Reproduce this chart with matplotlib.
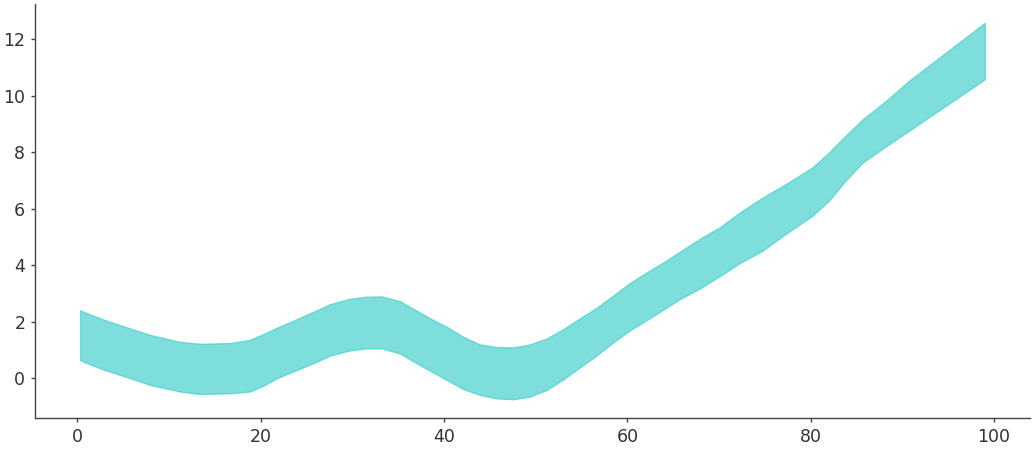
import matplotlib
matplotlib.use('Agg')
import matplotlib.pyplot as plt

# values
x = [0.3, 0.9, 3.0, 5.8, 8.0, 11.2, 13.4, 16.7, 18.8, 20.3, 21.75, 23.9, 25.7,
     27.6, 29.6, 31.5, 33.2, 35.2, 36.6, 38.5, 40.3, 42.1, 43.9, 45.7, 47.5,
     49.35, 51.2, 53.0, 54.8, 56.6, 58.4, 60.2, 62.1, 64.0, 65.7, 67.9, 70.1,
     72.2, 74.8, 77.3, 80.2, 82.0, 83.8, 85.7, 88.2, 90.7, 99.0]

upper = [2.41, 2.32, 2.06, 1.76, 1.53, 1.29, 1.22, 1.25, 1.36, 1.57, 1.79, 2.09,
         2.35, 2.63, 2.81, 2.89, 2.90, 2.73, 2.47, 2.12, 1.82, 1.47, 1.20, 1.11,
         1.09, 1.20, 1.41, 1.74, 2.12, 2.49, 2.92, 3.36, 3.75, 4.12, 4.48, 4.94,
         5.35, 5.86, 6.41, 6.88, 7.47, 8.00, 8.59, 9.18, 9.82, 10.53, 12.59]

lower = [0.65, 0.55, 0.29, 0.00, -0.24, -0.47, -0.56, -0.53, -0.47, -0.26, 0.00,
         0.29, 0.53, 0.81, 0.98, 1.06, 1.06, 0.88, 0.61, 0.26, -0.06, -0.38,
         -0.59, -0.71, -0.74, -0.65, -0.41, -0.04, 0.38, 0.80, 1.26, 1.68, 2.06,
         2.45, 2.80, 3.18, 3.62, 4.07, 4.53, 5.12, 5.76, 6.29, 7.00, 7.65, 8.21,
         8.76, 10.59]

fig, ax = plt.subplots(figsize=(10.35, 4.5), dpi=100)
ax.fill_between(x, lower, upper, color='mediumturquoise', alpha=0.7, linewidth=1)

# only left/bottom spines, like seaborn despine
for side in ['top', 'right']:
    ax.spines[side].set_visible(False)
for side in ['left', 'bottom']:
    ax.spines[side].set_color('#444444')
    ax.spines[side].set_linewidth(1.0)
ax.tick_params(labelsize=12.5, labelcolor='#333333', color='#444444',
               length=3, width=1, pad=4)

fig.subplots_adjust(left=35 / 1035, right=1030 / 1035, top=1 - 4 / 450, bottom=1 - 418 / 450)
plt.savefig('out.png')
